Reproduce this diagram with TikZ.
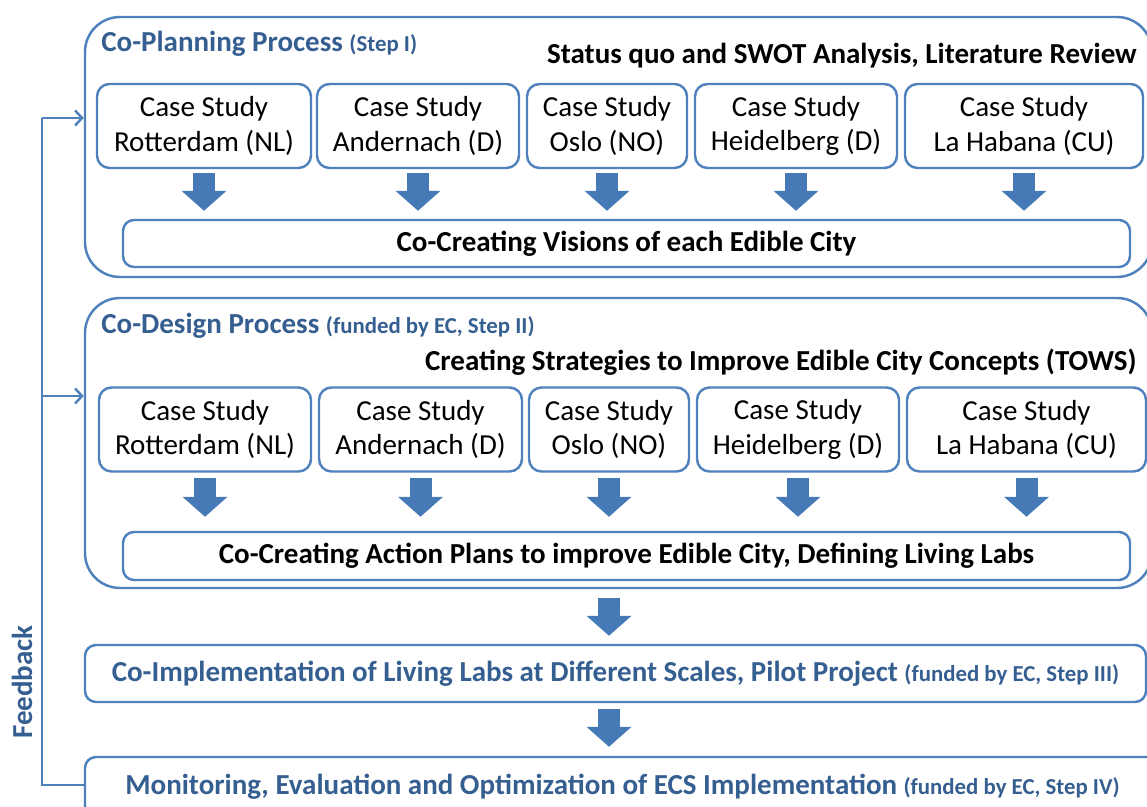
\documentclass[tikz,border=0pt]{standalone}
\usepackage{fontspec}
\setmainfont{Carlito}
\usetikzlibrary{arrows.meta,fit,positioning}
\definecolor{ecline}{RGB}{79,129,189}
\definecolor{ectext}{RGB}{54,95,145}
\definecolor{ecarrow}{RGB}{70,122,183}
\newcommand{\stepnote}[1]{{\fontsize{13}{15}\selectfont #1}}

\tikzset{
  outerbox/.style={draw=ecline, line width=1.4pt, rounded corners=0.7cm, inner sep=0pt},
  casebox/.style={draw=ecline, line width=1.4pt, rounded corners=0.25cm, align=center,
    font=\fontsize{16.5}{19.5}\selectfont, minimum height=84*0.02cm, inner sep=0pt},
  widebox/.style={draw=ecline, line width=1.4pt, rounded corners=0.22cm, inner sep=0pt},
  blockarrow/.style={draw=ecarrow, line width=0.44cm, -{Triangle[length=0.4cm, width=0.88cm]}},
  fbline/.style={draw=ecline, line width=1.4pt},
  bluetitle/.style={text=ectext, font=\bfseries\fontsize{16.5}{19}\selectfont, inner sep=0pt},
  blacktitle/.style={font=\bfseries\fontsize{16.5}{19}\selectfont, inner sep=0pt},
}

\begin{document}
\begin{tikzpicture}[x=0.02cm, y=-0.02cm]
  \useasboundingbox (0,0) rectangle (1147,807);

  % outer frames
  \node[outerbox, fit={(85,17) (1152,277)}] (plan) {};
  \node[outerbox, fit={(85,298) (1152,588)}] (design) {};

  % step I
  \node[bluetitle, anchor=west] (plantitle) at (101,44) {Co-Planning Process \stepnote{(Step I)}};
  \node[blacktitle, anchor=east] (swot) at (1137,56) {Status quo and SWOT Analysis, Literature Review};
  \node[widebox, minimum width=1007*0.02cm, minimum height=47*0.02cm, font=\bfseries\fontsize{16.5}{19}\selectfont]
    (vision) at (626.5,243.5) {Co-Creating Visions of each Edible City};
  \foreach \n/\cx/\w/\city in {p1/204/214/Rotterdam (NL), p2/418/202/Andernach (D), p3/607/160/Oslo (NO),
      p4/796/202/Heidelberg (D), p5/1024/238/La Habana (CU)}{
    \node[casebox, minimum width=\w*0.02cm] (\n) at (\cx,126) {Case Study\\\city};
    \draw[blockarrow, shorten <=0.08cm, shorten >=0.16cm] (\n.south) -- (\n.south |- vision.north);
  }

  % step II
  \node[bluetitle, anchor=west] (designtitle) at (101,326) {Co-Design Process \stepnote{(funded by EC, Step II)}};
  \node[blacktitle, anchor=east] (tows) at (1137,362) {Creating Strategies to Improve Edible City Concepts (TOWS)};
  \node[widebox, minimum width=1007*0.02cm, minimum height=48*0.02cm, font=\bfseries\fontsize{16.5}{19}\selectfont]
    (actions) at (626.5,556) {Co-Creating Action Plans to improve Edible City, Defining Living Labs};
  \foreach \n/\cx/\w/\city in {d1/205/212/Rotterdam (NL), d2/420.5/203/Andernach (D), d3/609/160/Oslo (NO),
      d4/798/202/Heidelberg (D), d5/1026.5/239/La Habana (CU)}{
    \node[casebox, minimum width=\w*0.02cm] (\n) at (\cx,429.5) {Case Study\\\city};
    \draw[blockarrow, shorten <=0.1cm, shorten >=0.28cm] (\n.south) -- (\n.south |- actions.north);
  }

  % step III and IV
  \node[widebox, minimum width=1061*0.02cm, minimum height=57*0.02cm, bluetitle]
    (impl) at (615.5,673.5) {Co-Implementation of Living Labs at Different Scales, Pilot Project \stepnote{(funded by EC, Step III)}};
  \node[widebox, minimum width=1075*0.02cm, minimum height=60*0.02cm, bluetitle]
    (monitor) at (622.5,787) {Monitoring, Evaluation and Optimization of ECS Implementation \stepnote{(funded by EC, Step IV)}};
  \draw[blockarrow, shorten <=0.18cm, shorten >=0.16cm] (d3.south |- design.south) -- (d3.south |- impl.north);
  \draw[blockarrow, shorten <=0.12cm, shorten >=0.18cm] (d3.south |- impl.south) -- (d3.south |- monitor.north);

  % feedback loop
  \coordinate (fbbot) at (42,785);
  \coordinate (fbtop) at (42,118);
  \coordinate (fbmid) at (42,396);
  \draw[fbline] (monitor.west |- fbbot) -- (fbbot) -- (fbtop);
  \draw[fbline, -{Straight Barb[length=0.14cm, width=0.3cm]}] (fbtop) -- (fbtop -| plan.west);
  \draw[fbline, -{Straight Barb[length=0.14cm, width=0.3cm]}] (fbmid) -- (fbmid -| design.west);
  \node[bluetitle, rotate=90] (fblabel) at (22,682) {Feedback};
\end{tikzpicture}
\end{document}
